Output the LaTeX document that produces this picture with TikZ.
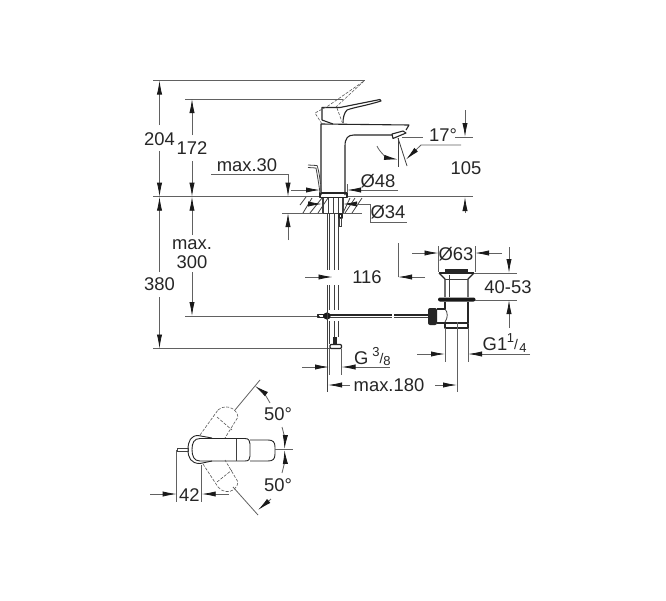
\documentclass[tikz,border=0pt]{standalone}
\usepackage{fontspec}
\setmainfont{Liberation Sans}
\usetikzlibrary{arrows.meta}
\definecolor{dimc}{gray}{0.38}
\tikzset{
 dimline/.style={draw=dimc,line width=0.8pt},
 dimarr/.style={dimline,-{Latex[length=14pt,width=5.2pt,color=black!90]}},
 outl/.style={draw=black!85,line width=1.1pt,line join=round},
 planl/.style={draw=black!85,line width=0.9pt,line join=round},
 thin outl/.style={draw=black!75,line width=0.8pt},
 ghost/.style={draw=black!65,line width=0.6pt,dash pattern=on 3pt off 1.5pt},
 lab/.style={font=\fontsize{18.4}{20}\selectfont,text=black!85,inner sep=0pt},
 sublab/.style={font=\fontsize{13}{13}\selectfont,text=black!85,inner sep=0pt},
}
\begin{document}
\begin{tikzpicture}[x=1pt,y=-1pt]
\useasboundingbox (0,0) rectangle (666,600);
\fill[white] (0,0) rectangle (666,600);
% ---- long extension lines
\draw[dimline] (153,80.5) -- (365,80.5);
\draw[dimline] (185,99) -- (343,99);
\draw[dimline] (153,196.7) -- (320,196.7);
\draw[dimline] (347,196.7) -- (473,196.7);
\draw[dimline] (282,213) -- (362,213);
\draw[dimline] (185,316) -- (320,316);
\draw[dimline] (153,348.5) -- (330,348.5);
% ---- 204
\draw[dimarr] (159.5,125) -- (159.5,80.5);
\draw[dimarr] (159.5,151) -- (159.5,196.7);
\draw[dimarr] (159.5,272) -- (159.5,196.7);
\draw[dimarr] (159.5,297) -- (159.5,348.5);
\node[lab] (t204) at (159.5,139) {204};
\node[lab] (t380) at (159.5,284) {380};
% ---- 172 / max.300
\draw[dimarr] (192,135) -- (192,99);
\draw[dimarr] (192,161) -- (192,196.7);
\draw[dimarr] (192,235) -- (192,196.7);
\draw[dimarr] (192,272) -- (192,316);
\node[lab] (t172) at (192,148) {172};
\node[lab] (tmax) at (192,245) {max.};
\node[lab] (t300) at (192,262) {300};
% ---- max.30
\node[lab] (tmax30) at (247,165) {max.30};
\draw[dimarr] (211,174.7) -- (288,174.7) -- (288,196.7);
\draw[dimarr] (288,240) -- (288,213);
% ---- faucet body
\draw[outl] (321,195) -- (321,124) -- (409,125) -- (406,130);
\draw[outl] (345,195) -- (345,146) .. controls (345,138) and (348,135) .. (354,135) -- (392,135);
\draw[outl] (392,134) -- (403,131) -- (406,133) -- (393,138.5) -- cycle;
% handle
\draw[outl] (322,120) -- (322,107.5) -- (340,107.5) -- (380,99.5) -- (381,101) .. controls (365,106) and (355,107) .. (347,110) .. controls (344,113) and (343,118) .. (343,123);
\draw[outl] (322,120) -- (333,124);
% ghost handle
\draw[ghost] (322,124) -- (315,113) -- (328,106) -- (364,81);
\draw[ghost] (364,81) -- (336,107);
\draw[ghost] (337,108) -- (342,122);
% pop-up lever
\draw[thin outl] (308,165) -- (317,165.5) .. controls (319,170) and (321,185) .. (321,193);
\draw[thin outl] (308,167.5) -- (316,168) .. controls (317,173) and (319,185) .. (320,193);
% base flange
\draw[outl] (320,193) -- (347,193) -- (347,197.5) -- (320,197.5) -- cycle;
% shank in deck
\foreach \xx in {323,328,333,338,342}{\draw[thin outl] (\xx,198) -- (\xx,213);}
\draw[thin outl] (323,213) -- (343,213);
% deck hatch
\foreach \xa/\xb in {303/312,310/322,318/328}{\draw[thin outl] (\xa,213) -- (\xb,198);}
\foreach \xa/\xb in {345/355,352/362,343/350}{\draw[thin outl] (\xa,213) -- (\xb,198);}
\draw[thin outl] (300,205) -- (306,197);
\draw[thin outl] (322,197.5) -- (322,213);
\draw[thin outl] (343,197.5) -- (343,213);
% Ø48
\node[lab] (t48) at (378,181) {Ø48};
\draw[dimarr] (291,190) -- (320,190);
\draw[dimline] (398,190) -- (360,190);
\draw[dimarr] (361,190) -- (347,190);
\draw[dimline] (320,184) -- (320,193);
\draw[dimline] (347,184) -- (347,193);
% Ø34
\node[lab] (t34) at (388,212) {Ø34};
\draw[dimarr] (308,204) -- (322,204);
\draw[dimarr] (357,204) -- (343,204);
\draw[dimline] (356,204) -- (370,204) -- (370,222) -- (407,222);
% pipes
\foreach \xx in {327,329.5,334,338}{
 \draw[thin outl] (\xx,213) -- (\xx,270);
 \draw[thin outl] (\xx,285) -- (\xx,310);
}
\draw[thin outl] (334,321) -- (334,337);
\draw[thin outl] (338,321) -- (338,337);
\draw[thin outl] (329.5,321) -- (329.5,344);
% small check valve on shank
\draw[outl] (339,214) rectangle (342,218);
\draw[thin outl] (339,218) rectangle (341.5,226);
% connection
\fill[black!85] (333,337) rectangle (337,344);
\draw[outl,rounded corners=1pt] (330,344.5) rectangle (341.5,348.5);
% 116
\node[lab] (t116) at (367,277) {116};
\draw[dimarr] (305,277) -- (332.5,277);
\draw[dimline] (398,243) -- (398,277);
\draw[dimarr] (425,277) -- (398,277);
% rod
\draw[outl] (318,314.5) rectangle (324,317.5);
\draw[outl] (330,315) -- (392,315);
\draw[thin outl] (330,317.5) -- (392,317.5);
\draw[outl] (394,315) -- (428,315);
\draw[thin outl] (394,317.5) -- (428,317.5);
\fill[black!90] (327,316) circle (3.6);
\draw[thin outl] (327,300) -- (327,392);
% G 3/8
\draw[dimarr] (302,367) -- (329,367);
\draw[dimline] (356,367) -- (390,367);
\draw[dimarr] (357,367) -- (341.5,367);
\draw[dimline] (341.5,348.5) -- (341.5,375);
\draw[dimline] (329.5,348.5) -- (329.5,375);
\node[lab,anchor=base west] (tG) at (354,364.5) {G};
\node[sublab] (t3) at (376,352.5) {3};
\node[lab] (tslash) at (381.5,358) {\fontsize{14}{14}\selectfont/};
\node[sublab] (t8) at (387,361) {8};
% max.180
\node[lab] (t180) at (389,385.5) {max.180};
\draw[dimarr] (350,385) -- (328,385);
\draw[dimarr] (435,385) -- (457,385);
% ---- drain
\fill[black!85] (445,269) rectangle (468,273);
\draw[outl] (439,273) -- (474,273);
\draw[outl] (439,273) -- (445,279) -- (445,297);
\draw[outl] (474,273) -- (468,279) -- (468,297);
\draw[thin outl] (449,275) -- (449,297);
\draw[thin outl] (445,279) -- (468,279);
\fill[black!90,rounded corners=2pt] (438,297.5) rectangle (475.5,301.5);
\draw[outl] (445,302) -- (445,309);
\draw[outl] (468,302) -- (468,323);
\draw[thin outl] (445,323) -- (445,322) .. controls (448,318) and (448,312) .. (445,309);
\draw[outl] (437,309) -- (445,309);
\draw[outl] (437,323) -- (468,323);
\fill[black!85,rounded corners=2pt] (428,308) rectangle (437,325);
\draw[outl] (445,323.5) rectangle (468,328);
% drain dims
\node[lab] (t63) at (456,254) {Ø63};
\draw[dimarr] (412,253) -- (438.5,253);
\draw[dimarr] (502,253) -- (475,253);
\draw[dimline] (438.5,246) -- (438.5,272);
\draw[dimline] (475,246) -- (475,272);
\draw[dimline] (474,273) -- (517,273);
\draw[dimline] (475,300) -- (517,300);
\draw[dimarr] (509,247) -- (509,273);
\draw[dimarr] (509,328) -- (509,300);
\node[lab] (t4053) at (508,287) {40-53};
\node[lab,anchor=base west] (tG1) at (482.5,350) {G1};
\node[sublab] (t1) at (510.5,338) {1};
\node[lab] (tsl2) at (516,344) {\fontsize{14}{14}\selectfont/};
\node[sublab] (t4) at (523,348.5) {4};
\draw[dimarr] (530,354) -- (468,354);
\draw[dimarr] (417,354) -- (445,354);
\draw[dimline] (445,328) -- (445,362);
\draw[dimline] (468,328) -- (468,362);
\draw[dimline] (457,322) -- (457,392);
% ---- spout dims
\node[lab] (t17) at (443,135) {17°};
\node[lab] (t105) at (466,168) {105};
\draw[dimarr] (465,110) -- (465,137);
\draw[dimline] (455,137) -- (473,137);
\draw[dimarr] (465,213) -- (465,197);
\draw[dimline] (402,137) -- (423,137);
\draw[thin outl] (398,138) -- (398,167);
\draw[thin outl] (398,138) -- (407,166);
\draw[dimarr] (377,146) .. controls (380,153) and (388,158) .. (398,159.5);
\draw[dimarr] (461,145) -- (421,145) -- (406,159.5);
% ---- plan view
\draw[planl] (198,435.5) .. controls (191,435.5) and (188,441) .. (188,449.5) .. controls (188,458) and (191,463.5) .. (200,463.5) -- (212,461);
\draw[planl] (198,435.5) -- (212,438);
\draw[planl] (212,438.5) -- (245,438.5) .. controls (249,438.5) and (250,441) .. (250,444) -- (250,456) .. controls (250,459) and (249,461) .. (245,461) -- (200,461) .. controls (194,461) and (192,456) .. (192,449.5) .. controls (192,443) and (194,438.5) .. (200,438.5) -- (212,438.5);
\draw[planl] (250,440) -- (268,440) .. controls (273,440) and (275,442) .. (275,447) -- (275,454) .. controls (275,459) and (273,461) .. (268,461) -- (250,461);
\draw[thin outl] (236,439) -- (236,461);
\draw[thin outl] (177.5,448) rectangle (188,451);
% ghost plan handles
\draw[ghost] (200,435) -- (218,410);
\draw[ghost] (218,410) .. controls (222,406) and (229,406) .. (233,409) .. controls (237,412) and (238,415) .. (238,417) -- (225,438);
\draw[ghost] (217,417) -- (232,430);
\draw[ghost] (203,464) -- (218,487);
\draw[ghost] (218,487) .. controls (222,492) and (229,493) .. (233,490) .. controls (237,487) and (238,484) .. (238,482) -- (225,460);
\draw[ghost] (217,482) -- (232,470);
% plan dims
\draw[dimline] (176.7,450) -- (176.7,502);
\draw[dimline] (201.7,465) -- (201.7,502);
\draw[dimarr] (150,494) -- (176.7,494);
\draw[dimarr] (229,494) -- (201.7,494);
\node[lab] (t42) at (189.3,495) {42};
\draw[dimline] (275,449.5) -- (293,449.5);
\draw[dimline] (260,380) -- (235,410);
\draw[dimline] (233,487) -- (258,515);
\node[lab] (t50a) at (278,414) {50°};
\node[lab] (t50b) at (278,485) {50°};
\draw[dimarr] (270,403) .. controls (267,397) and (262,391) .. (255,386);
\draw[dimarr] (282,427) .. controls (284,434) and (285,441) .. (284.5,449);
\draw[dimarr] (282,473) .. controls (284,466) and (285,458) .. (284.5,450);
\draw[dimarr] (271,499) -- (258,510);
\end{tikzpicture}
\end{document}
